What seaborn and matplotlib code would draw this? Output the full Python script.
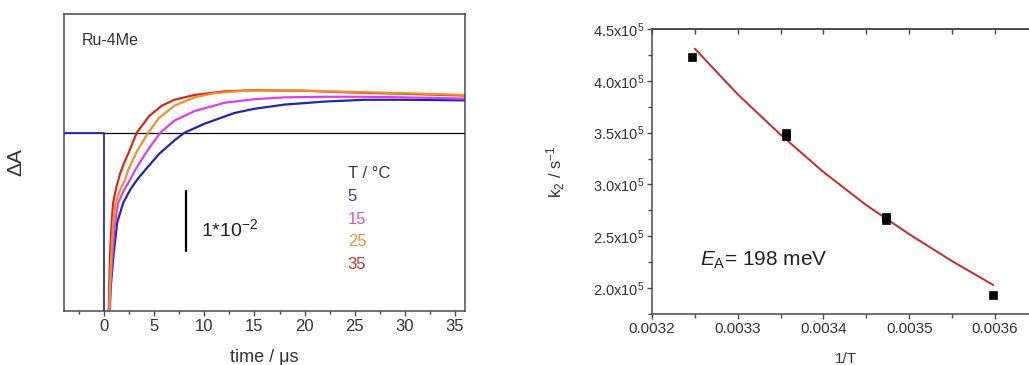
import numpy as np
import pandas as pd
import seaborn as sns
import matplotlib.pyplot as plt
from matplotlib.ticker import MultipleLocator, FuncFormatter, FormatStrFormatter

# ---- transient absorption traces (time in us, dA) ----
t_red = [0.40, 0.50, 0.60, 0.75, 0.90, 1.20, 1.60, 2.00, 2.40, 3.25, 4.50, 5.75, 7.0, 9.0, 12.0, 15.0, 20.0, 25.0, 30.0, 36.0]
a_red = [-0.035, -0.026, -0.020, -0.0150, -0.0117, -0.0092, -0.0068, -0.0050, -0.0035, 0.0, 0.0028, 0.0045, 0.0055, 0.0063, 0.0069, 0.0071, 0.0070, 0.0067, 0.0065, 0.0062]

t_orange = [0.45, 0.55, 0.70, 0.90, 1.15, 1.60, 2.10, 2.40, 3.30, 4.40, 5.50, 7.0, 9.0, 11.0, 14.0, 18.0, 25.0, 30.0, 36.0]
a_orange = [-0.035, -0.027, -0.021, -0.0150, -0.0117, -0.0095, -0.0078, -0.0062, -0.0030, 0.0, 0.0025, 0.0045, 0.0059, 0.0066, 0.0070, 0.0071, 0.0068, 0.0066, 0.0063]

t_magenta = [0.45, 0.60, 0.80, 1.05, 1.40, 2.00, 2.60, 3.10, 4.30, 5.60, 7.0, 9.0, 12.0, 15.0, 18.0, 22.0, 26.0, 30.0, 36.0]
a_magenta = [-0.035, -0.026, -0.021, -0.0155, -0.0117, -0.0095, -0.0078, -0.0062, -0.0030, 0.0, 0.0020, 0.0036, 0.0050, 0.0056, 0.0059, 0.0060, 0.0060, 0.0059, 0.0057]

t_blue = [0.45, 0.65, 0.90, 1.30, 1.90, 2.60, 3.30, 4.10, 5.50, 7.0, 8.0, 10.0, 13.0, 15.0, 18.0, 22.0, 26.0, 30.0, 36.0]
a_blue = [-0.035, -0.026, -0.021, -0.0150, -0.0117, -0.0095, -0.0078, -0.0062, -0.0035, -0.0013, 0.0, 0.0015, 0.0033, 0.0040, 0.0047, 0.0052, 0.0055, 0.0055, 0.0054]

t_pre = [-4.0, -2.0, 0.0, 0.0]
a_pre = [0.0, 0.0, 0.0, -0.04]

temps = ['5', '15', '25', '35']

# ---- Arrhenius panel ----
inv_T = [0.003247, 0.003356, 0.003356, 0.003473, 0.003473, 0.003598]
k2 = [4.23e5, 3.50e5, 3.47e5, 2.69e5, 2.655e5, 1.93e5]
fit_x = [0.003250, 0.003300, 0.003350, 0.003400, 0.003450, 0.003500, 0.003550, 0.003598]
fit_y = [4.31e5, 3.87e5, 3.48e5, 3.12e5, 2.80e5, 2.52e5, 2.26e5, 2.03e5]

sns.set_theme(style='ticks')
plt.rcParams['font.family'] = ['Liberation Sans', 'DejaVu Sans']
plt.rcParams['mathtext.fontset'] = 'custom'
plt.rcParams['mathtext.rm'] = 'Liberation Sans'
plt.rcParams['mathtext.it'] = 'Liberation Sans:italic'

fig = plt.figure(figsize=(10.29, 3.65), dpi=100)
frame = '#4a4a4a'
txt = '#333333'

# left panel
ax = fig.add_axes([0.0622, 0.148, 0.3897, 0.8137])
cols = {'5': '#2424b0', '15': '#e03ee0', '25': '#f0902a', '35': '#d42a1e'}
traces = pd.concat([
    pd.DataFrame({'t': t_blue, 'dA': a_blue, 'T': '5'}),
    pd.DataFrame({'t': t_magenta, 'dA': a_magenta, 'T': '15'}),
    pd.DataFrame({'t': t_red, 'dA': a_red, 'T': '35'}),
    pd.DataFrame({'t': t_orange, 'dA': a_orange, 'T': '25'}),
])
ax.axhline(0, color='black', lw=0.9, zorder=1)
ax.plot(t_pre, a_pre, color='#2a2ab8', lw=1.3, zorder=3)
for T in ['5', '15', '35', '25']:
    sns.lineplot(data=traces[traces['T'] == T], x='t', y='dA', color=cols[T],
                 lw=1.6, ax=ax, sort=False, legend=False, zorder=2)
ax.set_xlim(-4, 36)
ax.set_ylim(-0.0297, 0.0198)
ax.xaxis.set_major_locator(MultipleLocator(5))
ax.xaxis.set_minor_locator(MultipleLocator(2.5))
ax.set_yticks([])
ax.tick_params(axis='x', which='major', direction='out', length=3.5, width=1, color=frame,
               labelsize=12, labelcolor=txt, pad=2)
ax.tick_params(axis='x', which='minor', direction='out', length=2.5, width=1, color=frame)
for s in ax.spines.values():
    s.set_color(frame)
    s.set_linewidth(1.1)
ax.set_xlabel('time / μs', fontsize=13, color=txt)
ax.xaxis.set_label_coords(0.5, -0.128)
ax.xaxis.label.set_va('top')
ax.set_ylabel('ΔA', fontsize=15, color=txt)
ax.yaxis.set_label_coords(-0.097, 0.5)

ax.text(-2.2, 0.01467, 'Ru-4Me', fontsize=11.5, color=txt)
ax.text(24.3, -0.0075, 'T / °C', fontsize=12, color=txt)
lab_cols = {'5': '#3a3aa8', '15': '#d457d4', '25': '#e8943e', '35': '#c03434'}
for T, yb in zip(temps, [-0.01145, -0.01517, -0.0189, -0.0227]):
    ax.text(24.3, yb, T, fontsize=12, color=lab_cols[T])
ax.plot([8.18, 8.18], [-0.00967, -0.01967], color='black', lw=1.6)
ax.text(9.66, -0.01728, '1*10$^{-2}$', fontsize=14, color='#222222')

# right panel
ax2 = fig.add_axes([0.6336, 0.1397, 0.3767, 0.7808])
sns.lineplot(x=fit_x, y=fit_y, color='#c8282c', lw=1.4, ax=ax2, sort=False)
sns.scatterplot(x=inv_T, y=k2, marker='s', s=36, color='black', edgecolor='black', ax=ax2, zorder=3)
ax2.set_xlim(0.0032, 0.003652)
ax2.set_ylim(1.75e5, 4.5e5)
ax2.xaxis.set_major_locator(MultipleLocator(0.0001))
ax2.xaxis.set_minor_locator(MultipleLocator(0.00005))
ax2.xaxis.set_major_formatter(FormatStrFormatter('%.4f'))
ax2.yaxis.set_major_locator(MultipleLocator(0.5e5))
ax2.yaxis.set_minor_locator(MultipleLocator(0.25e5))
ax2.yaxis.set_major_formatter(FuncFormatter(lambda v, p: f'{v / 1e5:.1f}x10$^{{5}}$'))
ax2.tick_params(axis='both', which='major', direction='out', length=3.5, width=1, color=frame,
                labelsize=10.5, labelcolor=txt, pad=2)
ax2.tick_params(axis='x', which='major', labelsize=11)
ax2.tick_params(axis='both', which='minor', direction='out', length=3, width=1, color=frame)
top = ax2.secondary_xaxis('top')
top.xaxis.set_major_locator(MultipleLocator(0.00005))
top.tick_params(direction='in', length=3.5, width=1, color=frame, labeltop=False)
top.spines['top'].set_color(frame)
for s in ax2.spines.values():
    s.set_color(frame)
    s.set_linewidth(1.1)
ax2.set_xlabel('1/T', fontsize=11, color=txt)
ax2.xaxis.set_label_coords(0.5, -0.135)
ax2.xaxis.label.set_va('top')
ax2.set_ylabel('k$_2$ / s$^{-1}$', fontsize=12, color=txt)
ax2.yaxis.set_label_coords(-0.219, 0.5)
ax2.text(0.003256, 2.212e5, '$\\it{E}_\\mathrm{A}$= 198 meV', fontsize=15, color='#222222', va='baseline')

fig.savefig('out.png', dpi=100)
